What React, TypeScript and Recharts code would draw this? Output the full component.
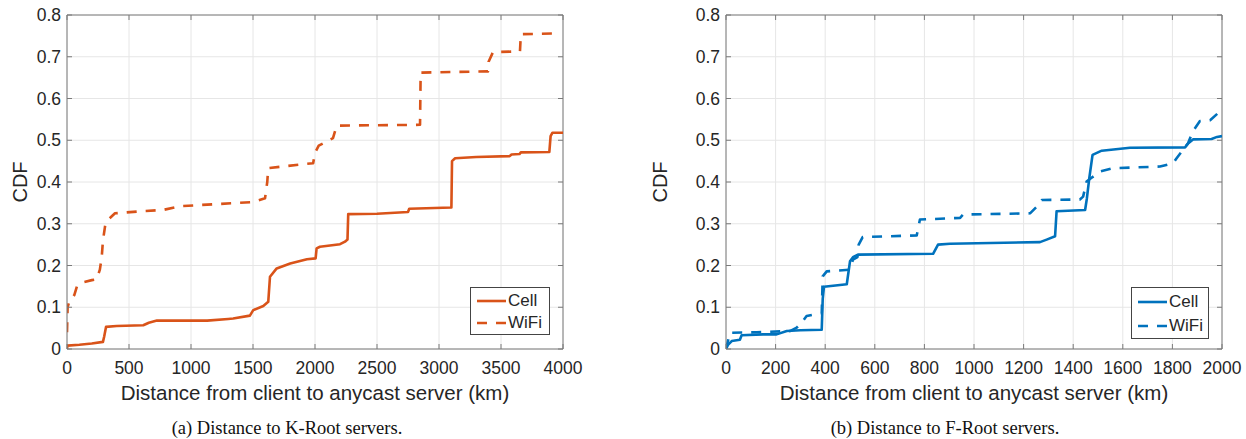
import React from 'react';
import { LineChart, Line, XAxis, YAxis, CartesianGrid, ReferenceLine } from 'recharts';

// K-Root (left panel)
const kCellKm = [0, 3, 100, 200, 290, 300, 315, 400, 615, 660, 725, 1130, 1300, 1340, 1475, 1502, 1583, 1623, 1637, 1691, 1800, 1935, 2005, 2013, 2040, 2202, 2242, 2262, 2268, 2500, 2750, 2760, 3100, 3105, 3130, 3300, 3570, 3585, 3650, 3660, 3890, 3900, 3915, 4000];
const kCellCdf = [0, 0.008, 0.010, 0.013, 0.017, 0.03, 0.053, 0.055, 0.057, 0.063, 0.068, 0.068, 0.072, 0.073, 0.080, 0.093, 0.103, 0.113, 0.173, 0.193, 0.205, 0.215, 0.217, 0.241, 0.245, 0.251, 0.257, 0.262, 0.323, 0.324, 0.328, 0.336, 0.339, 0.45, 0.457, 0.46, 0.462, 0.466, 0.467, 0.471, 0.472, 0.51, 0.518, 0.518];
const kWifiKm = [0, 5, 15, 30, 60, 80, 130, 200, 240, 265, 280, 290, 310, 333, 387, 600, 775, 910, 1200, 1500, 1597, 1615, 1623, 1880, 1985, 2000, 2030, 2145, 2175, 2847, 2852, 3395, 3400, 3435, 3653, 3660, 3950];
const kWifiCdf = [0.04, 0.10, 0.11, 0.115, 0.13, 0.15, 0.16, 0.165, 0.167, 0.19, 0.22, 0.26, 0.30, 0.31, 0.325, 0.33, 0.333, 0.342, 0.347, 0.352, 0.361, 0.40, 0.433, 0.442, 0.445, 0.47, 0.487, 0.505, 0.535, 0.537, 0.662, 0.665, 0.688, 0.711, 0.713, 0.754, 0.756];

// F-Root (right panel)
const fCellKm = [0, 8, 23, 56, 63, 150, 204, 245, 300, 386, 390, 395, 487, 500, 512, 532, 835, 855, 903, 1266, 1293, 1327, 1333, 1448, 1455, 1465, 1478, 1515, 1629, 1851, 1863, 1883, 1958, 1980, 2000];
const fCellCdf = [0, 0.01, 0.019, 0.022, 0.033, 0.035, 0.035, 0.043, 0.045, 0.046, 0.12, 0.149, 0.155, 0.21, 0.22, 0.226, 0.228, 0.25, 0.252, 0.256, 0.262, 0.27, 0.33, 0.333, 0.36, 0.41, 0.465, 0.475, 0.482, 0.483, 0.492, 0.502, 0.503, 0.508, 0.51];
const fWifiKm = [0, 16, 124, 258, 285, 305, 325, 359, 386, 390, 406, 500, 512, 530, 535, 551, 769, 782, 944, 956, 1226, 1253, 1273, 1427, 1440, 1454, 1474, 1508, 1561, 1750, 1803, 1817, 1863, 1883, 1911, 1952, 1984, 1992, 2000];
const fWifiCdf = [0, 0.039, 0.04, 0.043, 0.051, 0.063, 0.079, 0.083, 0.085, 0.174, 0.186, 0.19, 0.214, 0.22, 0.25, 0.268, 0.272, 0.31, 0.314, 0.322, 0.325, 0.341, 0.357, 0.358, 0.365, 0.401, 0.41, 0.425, 0.433, 0.437, 0.445, 0.457, 0.493, 0.522, 0.546, 0.548, 0.565, 0.577, 0.577];

const yTicks = [0, 0.1, 0.2, 0.3, 0.4, 0.5, 0.6, 0.7, 0.8];
const kTicks = [0, 500, 1000, 1500, 2000, 2500, 3000, 3500, 4000];
const fTicks = [0, 200, 400, 600, 800, 1000, 1200, 1400, 1600, 1800, 2000];

const ORANGE = '#D95319';
const BLUE = '#0072BD';
const SANS = '"Liberation Sans", Arial, sans-serif';
const SERIF = '"Liberation Serif", "Times New Roman", serif';
const TEXT = '#262626';
const AXIS = '#7a7a7a';

const zip = (xs: number[], ys: number[]) => xs.map((x, i) => ({ x, y: ys[i] }));

const TOP = 15;
const BOTTOM = 349;
const H = 439;

interface Series { name: string; data: { x: number; y: number }[]; dashed: boolean; }

interface PanelProps {
  left: number;
  width: number;
  yAxisWidth: number;
  marginRight: number;
  xMax: number;
  xTicks: number[];
  color: string;
  series: Series[];
  caption: string;
  captionCenter: number;
  legend: { x: number; y: number; w: number; h: number };
}

const Panel = ({ left, width, yAxisWidth, marginRight, xMax, xTicks, color, series, caption, captionCenter, legend }: PanelProps) => {
  const pl = yAxisWidth;
  const pr = width - marginRight;
  const plotCenter = left + (pl + pr) / 2;

  const XTick = ({ x, payload }: any) => (
    <g>
      <line x1={x} x2={x} y1={BOTTOM} y2={BOTTOM - 5} stroke={AXIS} />
      <line x1={x} x2={x} y1={TOP} y2={TOP + 5} stroke={AXIS} />
      <text x={x} y={BOTTOM + 19} textAnchor="middle" dominantBaseline="central"
        fontFamily={SANS} fontSize={17.5} fill={TEXT}>{payload.value}</text>
    </g>
  );
  const YTick = ({ y, payload }: any) => (
    <g>
      <line x1={pl} x2={pl + 5} y1={y} y2={y} stroke={AXIS} />
      <line x1={pr - 5} x2={pr} y1={y} y2={y} stroke={AXIS} />
      <text x={pl - 6} y={y} textAnchor="end" dominantBaseline="central"
        fontFamily={SANS} fontSize={17.5} fill={TEXT}>{payload.value}</text>
    </g>
  );

  return (
    <>
      <div style={{ position: 'absolute', left, top: 0 }}>
        <LineChart width={width} height={H} margin={{ top: TOP, right: marginRight, bottom: H - BOTTOM - 60, left: 0 }}>
          <CartesianGrid stroke="#e6e6e6" strokeWidth={1} />
          <XAxis dataKey="x" type="number" domain={[0, xMax]} ticks={xTicks} allowDataOverflow
            height={60} tickLine={false} axisLine={{ stroke: AXIS }} tick={<XTick />} interval={0} />
          <YAxis type="number" domain={[0, 0.8]} ticks={yTicks} allowDataOverflow
            width={yAxisWidth} tickLine={false} axisLine={{ stroke: AXIS }} tick={<YTick />} interval={0} />
          <ReferenceLine y={0.8} stroke={AXIS} />
          <ReferenceLine x={xMax} stroke={AXIS} />
          {series.map((s) => (
            <Line key={s.name} data={s.data} dataKey="y" name={s.name} type="linear"
              stroke={color} strokeWidth={2.6} dot={false} activeDot={false}
              strokeDasharray={s.dashed ? '10 9' : undefined} strokeLinejoin="round"
              isAnimationActive={false} />
          ))}
        </LineChart>
      </div>
      <div style={{ position: 'absolute', left: left + 20 - 30, top: 182 - 12, width: 60, height: 24,
        transform: 'rotate(-90deg)', textAlign: 'center', fontFamily: SANS, fontSize: 20, lineHeight: '24px', color: TEXT }}>
        CDF
      </div>
      <div style={{ position: 'absolute', left: plotCenter - 250, top: 393 - 12, width: 500, height: 24,
        textAlign: 'center', fontFamily: SANS, fontSize: 20.5, lineHeight: '24px', color: TEXT }}>
        Distance from client to anycast server (km)
      </div>
      <div style={{ position: 'absolute', left: captionCenter - 200, top: 428 - 12, width: 400, height: 24,
        textAlign: 'center', fontFamily: SERIF, fontSize: 18.5, lineHeight: '24px', color: '#111' }}>
        {caption}
      </div>
      <div style={{ position: 'absolute', left: legend.x, top: legend.y, width: legend.w, height: legend.h,
        boxSizing: 'border-box', border: '1px solid #444', background: '#fff' }}>
        {series.map((s, i) => (
          <div key={s.name} style={{ position: 'absolute', left: 5, top: 2 + i * (legend.h - 4) / 2,
            height: (legend.h - 4) / 2, display: 'flex', alignItems: 'center' }}>
            <svg width={31} height={10}>
              <line x1={1} x2={30} y1={5} y2={5} stroke={color} strokeWidth={2.6}
                strokeDasharray={s.dashed ? '10 9' : undefined} />
            </svg>
            <span style={{ fontFamily: SANS, fontSize: 17, color: TEXT, marginLeft: 1 }}>{s.name}</span>
          </div>
        ))}
      </div>
    </>
  );
};

export default function App() {
  return (
    <div style={{ position: 'absolute', left: 0, top: 0, width: 1246, height: 439, background: '#fff', overflow: 'hidden' }}>
      <Panel left={0} width={600} yAxisWidth={67} marginRight={37} xMax={4000} xTicks={kTicks} color={ORANGE}
        series={[
          { name: 'Cell', data: zip(kCellKm, kCellCdf), dashed: false },
          { name: 'WiFi', data: zip(kWifiKm, kWifiCdf), dashed: true },
        ]}
        caption="(a) Distance to K-Root servers." captionCenter={287}
        legend={{ x: 470, y: 287, w: 80, h: 48 }} />
      <Panel left={640} width={606} yAxisWidth={86} marginRight={24} xMax={2000} xTicks={fTicks} color={BLUE}
        series={[
          { name: 'Cell', data: zip(fCellKm, fCellCdf), dashed: false },
          { name: 'WiFi', data: zip(fWifiKm, fWifiCdf), dashed: true },
        ]}
        caption="(b) Distance to F-Root servers." captionCenter={945}
        legend={{ x: 1131, y: 287, w: 78, h: 52 }} />
    </div>
  );
}
